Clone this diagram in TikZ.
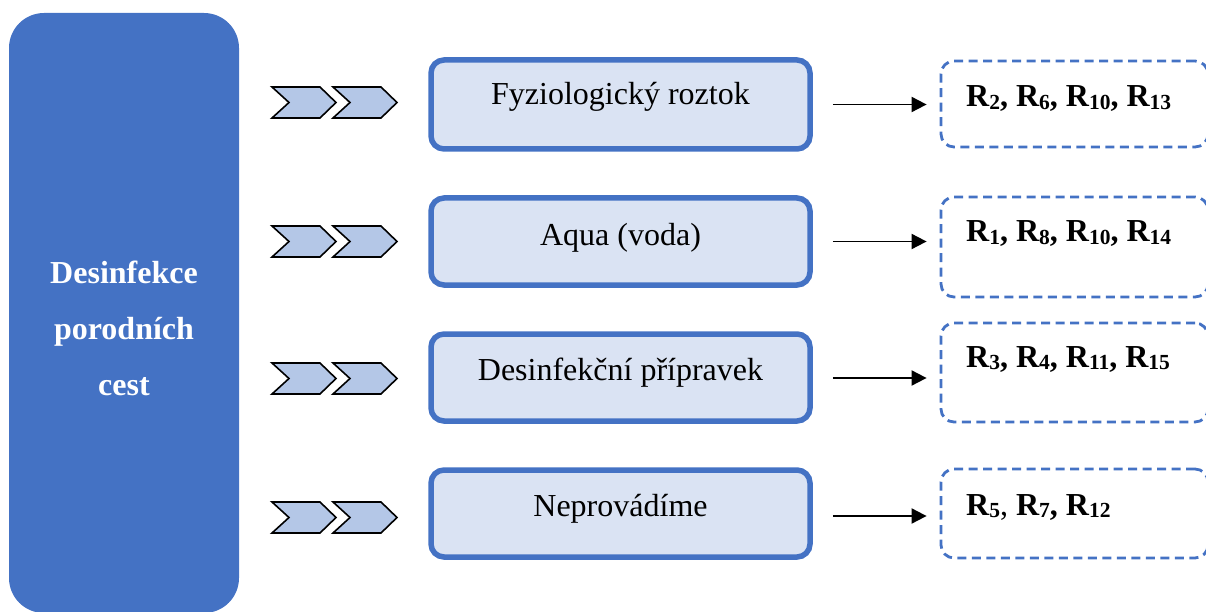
\documentclass[tikz,border=0pt]{standalone}
\usepackage{fontspec}
\setmainfont{Liberation Serif}
\usetikzlibrary{arrows.meta}
\definecolor{accentblue}{HTML}{4472C4}
\definecolor{paleblue}{HTML}{DAE3F3}
\definecolor{chevblue}{HTML}{B4C7E7}
% bold R with a lowered, smaller index
\newcommand\Rsub[1]{R\raisebox{-2.5pt}{\fontsize{21.5}{21.5}\selectfont #1}}
\begin{document}
\begin{tikzpicture}[x=1pt,y=-1pt,
  sidebar/.style={fill=accentblue, draw=none, rounded corners=35pt, inner sep=0pt},
  choicebox/.style={draw=accentblue, line width=5.5pt, fill=paleblue, rounded corners=13pt,
                    minimum width=379pt, inner sep=0pt},
  resultbox/.style={draw=accentblue, line width=2.8pt, dash pattern=on 9pt off 5.5pt,
                    rounded corners=13pt, minimum width=267pt, inner sep=0pt},
  chev/.style={draw=black, fill=chevblue, line width=1.6pt, line join=miter},
  link/.style={-{Triangle[length=15pt,width=15pt]}, line width=1.9pt},
  choicetext/.style={font=\fontsize{32}{38}\selectfont, anchor=base, inner sep=0pt},
  resulttext/.style={font=\fontsize{32}{38}\selectfont\bfseries, anchor=base west, inner sep=0pt},
  sidetext/.style={font=\fontsize{32}{38}\selectfont\bfseries, text=white, anchor=base, inner sep=0pt},
]
\useasboundingbox (0,0) rectangle (1206,612);

% left category bar
\node[sidebar, minimum width=230pt, minimum height=600pt] (side) at (124,313) {};
\node[sidetext] (side1) at (124,283) {Desinfekce};
\node[sidetext] (side2) at (124,339) {porodních};
\node[sidetext] (side3) at (124,395) {cest};

% double chevrons in front of each option
\foreach \c in {102.5,241.5,378.5,517.5}{
  \foreach \dx in {0,61}{
    \draw[chev] (272+\dx,\c-15.5) -- (320+\dx,\c-15.5) -- (336+\dx,\c)
                -- (320+\dx,\c+15.5) -- (272+\dx,\c+15.5) -- (289+\dx,\c) -- cycle;
  }
}

% option boxes
\node[choicebox, minimum height=89pt] (m1) at (620.5,104.5) {};
\node[choicebox, minimum height=87pt] (m2) at (620.5,241.5) {};
\node[choicebox, minimum height=87pt] (m3) at (620.5,377.5) {};
\node[choicebox, minimum height=87pt] (m4) at (620.5,513.5) {};
\node[choicetext] (m1t) at (620.5,105) {Fyziologický roztok};
\node[choicetext] (m2t) at (620.5,245) {Aqua (voda)};
\node[choicetext] (m3t) at (620.5,380) {Desinfekční přípravek};
\node[choicetext] (m4t) at (620.5,516) {Neprovádíme};

% result boxes, running off the right edge
\node[resultbox, minimum height=86pt]  (r1) at (1074.5,104)   {};
\node[resultbox, minimum height=100pt] (r2) at (1074.5,247)   {};
\node[resultbox, minimum height=99pt]  (r3) at (1074.5,372.5) {};
\node[resultbox, minimum height=89pt]  (r4) at (1074.5,513.5) {};
\node[resulttext] (r1t) at (966,107) {\Rsub{2}, \Rsub{6}, \Rsub{10}, \Rsub{13}};
\node[resulttext] (r2t) at (966,242) {\Rsub{1}, \Rsub{8}, \Rsub{10}, \Rsub{14}};
\node[resulttext] (r3t) at (966,367) {\Rsub{3}, \Rsub{4}, \Rsub{11}, \Rsub{15}};
\node[resulttext] (r4t) at (966,515) {\Rsub{5}{\mdseries,} \Rsub{7}, \Rsub{12}};

% connectors
\draw[link] ([xshift=20pt]m1.east) -- ([xshift=-13pt]m1.east -| r1.west);
\draw[link] ([xshift=20pt]m2.east) -- ([xshift=-13pt]m2.east -| r2.west);
\draw[link] ([xshift=20pt,yshift=-0.5pt]m3.east) -- ([xshift=-13pt,yshift=-0.5pt]m3.east -| r3.west);
\draw[link] ([xshift=20pt,yshift=-2.5pt]m4.east) -- ([xshift=-13pt,yshift=-2.5pt]m4.east -| r4.west);
\end{tikzpicture}
\end{document}
